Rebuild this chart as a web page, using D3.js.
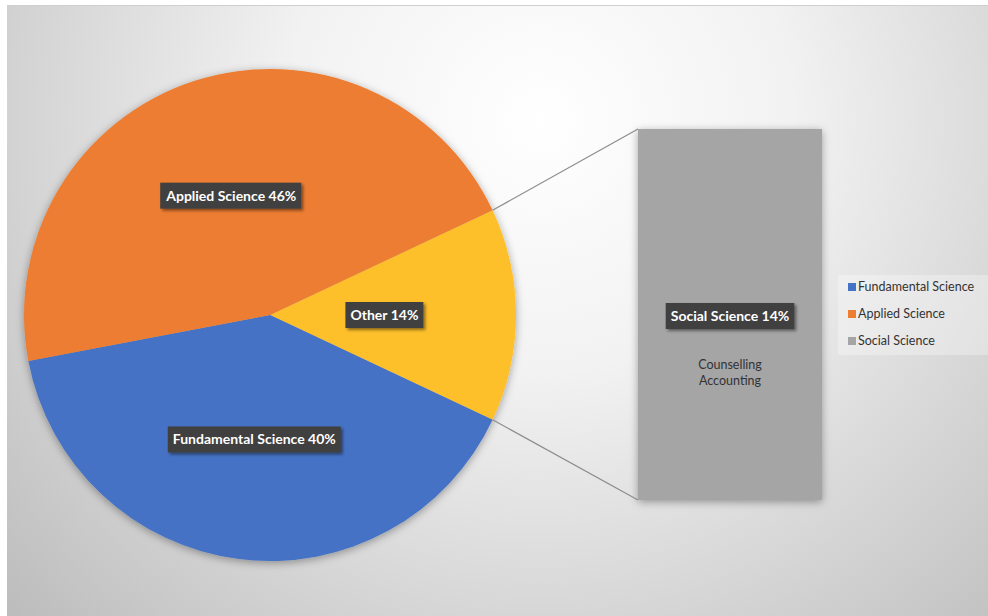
<!DOCTYPE html>
<html>
<head>
<meta charset="utf-8">
<script src="https://cdn.jsdelivr.net/npm/d3@7"></script>
<style>
  html, body { margin: 0; padding: 0; background: #fff; }
  svg { display: block; font-family: Lato, "Open Sans", sans-serif; }
</style>
</head>
<body>
<svg id="chart" width="988" height="616"></svg>
<script>
// pie slices, in drawing order (clockwise from the "Other" slice)
var sliceNames = ["Other", "Fundamental Science", "Applied Science"];
var sliceValues = [14, 40, 46];
var sliceColors = ["#FDBF2C", "#4472C4", "#ED7D31"];

// the bar that breaks out "Other"
var barNames = ["Social Science"];
var barValues = [14];
var barColor = "#A5A5A5";
var barNotes = ["Counselling", "Accounting"];

var legendNames = ["Fundamental Science", "Applied Science", "Social Science"];
var legendColors = ["#4472C4", "#ED7D31", "#A5A5A5"];

var svg = d3.select("#chart");
var W = 988, H = 616;

var defs = svg.append("defs");
var grad = defs.append("radialGradient")
    .attr("id", "bg")
    .attr("gradientUnits", "userSpaceOnUse")
    .attr("cx", 540).attr("cy", 120).attr("r", 720);
grad.append("stop").attr("offset", "0").attr("stop-color", "#ffffff");
grad.append("stop").attr("offset", "0.35").attr("stop-color", "#f2f2f2");
grad.append("stop").attr("offset", "1").attr("stop-color", "#bdbdbd");

var sh = defs.append("filter").attr("id", "shadow")
    .attr("x", "-20%").attr("y", "-20%").attr("width", "140%").attr("height", "140%");
sh.append("feDropShadow").attr("dx", 0).attr("dy", 2).attr("stdDeviation", 4)
    .attr("flood-color", "#000").attr("flood-opacity", 0.35);

var lsh = defs.append("filter").attr("id", "lshadow")
    .attr("x", "-20%").attr("y", "-40%").attr("width", "140%").attr("height", "180%");
lsh.append("feDropShadow").attr("dx", 2).attr("dy", 2).attr("stdDeviation", 1.5)
    .attr("flood-color", "#000").attr("flood-opacity", 0.45);

// page + chart area
svg.append("rect").attr("x", 0).attr("y", 0).attr("width", W).attr("height", H).attr("fill", "#fff");
svg.append("rect").attr("x", 7).attr("y", 5).attr("width", W - 7).attr("height", H - 5)
    .attr("fill", "url(#bg)");
svg.append("line").attr("x1", 7).attr("x2", W).attr("y1", 5.5).attr("y2", 5.5)
    .attr("stroke", "#cfcfcf").attr("stroke-width", 1);

// ---- pie ----
var cx = 270, cy = 315, R = 246;
var otherShare = sliceValues[0] / d3.sum(sliceValues);
var start = Math.PI / 2 - otherShare * Math.PI;   // center the "Other" slice on the right

var pie = d3.pie().sort(null).value(function(d) { return d; })
    .startAngle(start).endAngle(start + 2 * Math.PI);
var arcs = pie(sliceValues);
var arc = d3.arc().innerRadius(0).outerRadius(R);
var labelArc = d3.arc().innerRadius(0).outerRadius(R);

var pieG = svg.append("g").attr("transform", "translate(" + cx + "," + cy + ")");
pieG.append("g").attr("filter", "url(#shadow)")
    .selectAll("path").data(arcs).enter().append("path")
    .attr("d", arc)
    .attr("fill", function(d, i) { return sliceColors[i]; });

// ---- bar ----
var bx = d3.scaleBand().domain(barNames).range([638, 822]).padding(0);
var by = d3.scaleLinear().domain([0, d3.sum(barValues)]).range([500, 129]);

svg.append("g").selectAll("rect").data(barValues).enter().append("rect")
    .attr("x", function(d, i) { return bx(barNames[i]); })
    .attr("width", bx.bandwidth())
    .attr("y", function(d) { return by(d); })
    .attr("height", function(d) { return by(0) - by(d); })
    .attr("fill", barColor)
    .attr("filter", "url(#shadow)");

// connector lines from the "Other" slice edges to the bar corners
var oa = arcs[0];
function edge(a) {
  return [cx + R * Math.sin(a), cy - R * Math.cos(a)];
}
var p1 = edge(oa.startAngle), p2 = edge(oa.endAngle);
svg.append("line")
    .attr("x1", p1[0]).attr("y1", p1[1])
    .attr("x2", bx(barNames[0])).attr("y2", by(d3.sum(barValues)))
    .attr("stroke", "#8c8c8c").attr("stroke-width", 1.2);
svg.append("line")
    .attr("x1", p2[0]).attr("y1", p2[1])
    .attr("x2", bx(barNames[0])).attr("y2", by(0))
    .attr("stroke", "#8c8c8c").attr("stroke-width", 1.2);

// dark label boxes
function darkLabel(x, y, txt) {
  var g = svg.append("g").attr("transform", "translate(" + x + "," + y + ")");
  var t = g.append("text")
      .attr("text-anchor", "middle")
      .attr("dy", "0.35em")
      .attr("fill", "#fff")
      .style("font-size", "14px")
      .style("font-weight", "bold")
      .text(txt);
  var bb = t.node().getBBox();
  g.insert("rect", "text")
      .attr("x", bb.x - 5).attr("y", -13)
      .attr("width", bb.width + 10).attr("height", 26)
      .attr("fill", "#404040")
      .attr("filter", "url(#lshadow)");
}

arcs.forEach(function(d, i) {
  var c = labelArc.centroid(d);
  var k = i === 0 ? 0.93 : 1.02;
  darkLabel(cx + c[0] * k, cy + c[1] * k, sliceNames[i] + " " + sliceValues[i] + "%");
});

var barMid = bx(barNames[0]) + bx.bandwidth() / 2;
darkLabel(barMid, 316, barNames[0] + " " + barValues[0] + "%");

svg.append("g").selectAll("text").data(barNotes).enter().append("text")
    .attr("x", barMid)
    .attr("y", function(d, i) { return 369 + i * 16; })
    .attr("text-anchor", "middle")
    .attr("fill", "#333")
    .style("font-size", "12.5px")
    .text(function(d) { return d; });

// ---- legend ----
var lg = svg.append("g").attr("transform", "translate(838,275)");
lg.append("rect").attr("width", 150).attr("height", 80)
    .attr("fill", "#fff").attr("fill-opacity", 0.3);
var items = lg.selectAll("g.item").data(legendNames).enter().append("g")
    .attr("class", "item")
    .attr("transform", function(d, i) { return "translate(10," + (12 + i * 27) + ")"; });
items.append("rect").attr("x", 0).attr("y", -4).attr("width", 8).attr("height", 8)
    .attr("fill", function(d, i) { return legendColors[i]; });
items.append("text").attr("x", 10).attr("dy", "0.35em")
    .attr("fill", "#333")
    .style("font-size", "12.5px")
    .text(function(d) { return d; });
</script>
</body>
</html>
